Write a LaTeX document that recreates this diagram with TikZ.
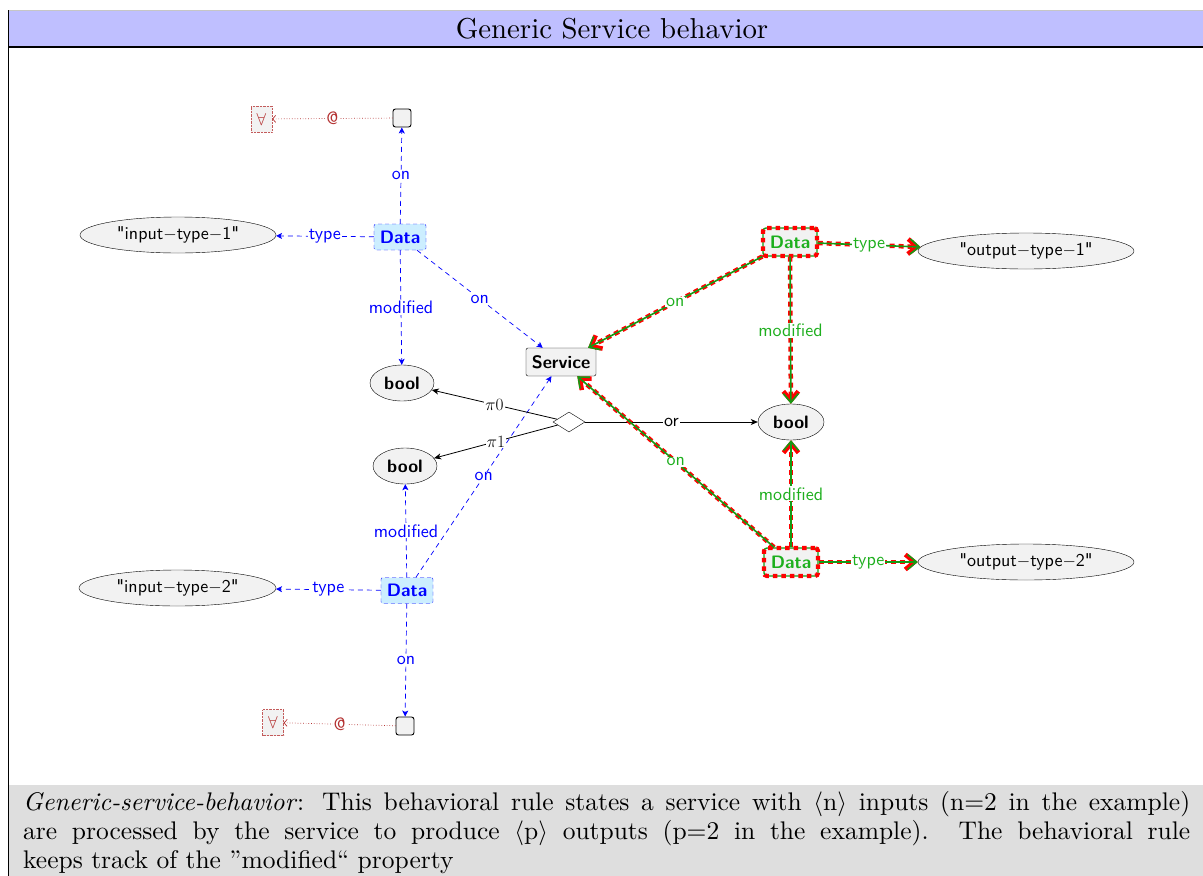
\documentclass[tikz,border=0pt]{standalone}
\usepackage{fontspec}
\usepackage{graphicx}
\setmainfont{lmroman10}[Extension=.otf, UprightFont=*-regular, ItalicFont=*-italic, BoldFont=*-bold, BoldItalicFont=*-bolditalic]
\setsansfont{lmsans10}[Extension=.otf, UprightFont=*-regular, BoldFont=*-bold, ItalicFont=*-oblique, BoldItalicFont=*-boldoblique]
\newfontfamily\plainsans{lmsans10}[Extension=.otf, UprightFont=*-regular, BoldFont=*-bold]
\usetikzlibrary{arrows.meta,shapes.geometric}
\definecolor{titlebg}{RGB}{191,191,255}
\definecolor{capbg}{RGB}{222,222,222}
\definecolor{nodebg}{RGB}{242,242,242}
\definecolor{inbg}{RGB}{204,238,255}
\definecolor{grn}{RGB}{20,155,20}
\definecolor{grntext}{RGB}{30,175,30}
\definecolor{rulered}{RGB}{180,50,50}
\definecolor{myred}{RGB}{255,0,0}
\begin{document}
\begin{tikzpicture}[x=1pt,y=-1pt,
  sq/.style={draw, line width=0.9pt, fill=nodebg, rounded corners=2.5pt, minimum size=18pt, inner sep=0pt},
  fa/.style={draw=rulered!80, densely dotted, fill=nodebg, text=rulered, minimum width=21pt, minimum height=26pt, inner sep=0pt, font=\fontsize{18}{21}\selectfont},
  indata/.style={draw=blue, dash pattern=on 4pt off 3pt, fill=inbg, text=blue, rounded corners=2pt, minimum width=52pt, minimum height=26pt, inner sep=2pt, font=\sffamily\bfseries\fontsize{18}{21}\selectfont},
  outdata/.style={fill=nodebg, draw=grn, line width=1.4pt, postaction={draw=myred, line width=4.2pt, dash pattern=on 4.5pt off 4pt}, text=grntext, rounded corners=3pt, minimum width=54pt, minimum height=28pt, inner sep=2pt, font=\sffamily\bfseries\fontsize{18}{21}\selectfont},
  ell/.style={ellipse, draw, fill=nodebg, inner sep=0pt, minimum height=36pt, font=\plainsans\fontsize{18}{21}\selectfont},
  boolst/.style={ellipse, draw, fill=nodebg, inner sep=0pt, minimum width=64pt, minimum height=36pt, font=\sffamily\bfseries\fontsize{18}{21}\selectfont},
  svc/.style={draw, fill=nodebg, rounded corners=2pt, minimum width=70pt, minimum height=28pt, inner sep=2pt, font=\sffamily\bfseries\fontsize{18}{21}\selectfont},
  dia/.style={diamond, draw, fill=white, minimum width=32pt, minimum height=20pt, inner sep=0pt},
  bl/.style={draw=blue, line width=0.7pt, dash pattern=on 5pt off 4pt, -{Stealth[length=6pt,width=6pt,inset=1.5pt]}},
  blab/.style={text=blue, fill=white, inner sep=1pt, font=\sffamily\fontsize{18}{21}\selectfont},
  bk/.style={draw, line width=0.8pt, -{Stealth[length=7pt,width=6pt,inset=2pt]}},
  klab/.style={text=black, fill=white, inner sep=1pt, font=\fontsize{18}{21}\selectfont},
  rd/.style={draw=rulered, line width=0.7pt, dotted, -{Straight Barb[length=3pt,width=7pt]}},
  rlab/.style={text=rulered, fill=white, inner sep=1pt, font=\sffamily\fontsize{18}{21}\selectfont},
  gr/.style={draw=grn, line width=1.6pt, preaction={draw=myred, line width=4.5pt, dash pattern=on 5pt off 4pt}, -{Straight Barb[length=9pt,width=15pt]}},
  glab/.style={text=grntext, fill=white, inner sep=1pt, font=\sffamily\fontsize{18}{21}\selectfont}
]
\useasboundingbox (0,0) rectangle (1203,876);
% frame
\fill[titlebg] (8,10) rectangle (1203,47);
\fill[capbg] (8,785) rectangle (1203,876);
\draw[gray!45, line width=0.8pt] (8,10) -- (1203,10);
\draw[line width=1.3pt] (8,47) -- (1203,47);
\draw[line width=0.8pt] (8,10) -- (8,876);
\node[font=\fontsize{28.8}{33}\selectfont, inner sep=0pt] (title) at (612,29) {Generic Service behavior};
\node[anchor=north west, inner sep=0pt, text width=1167pt, align=justify, font=\fontsize{25.5}{29}\selectfont] (cap) at (23,791)
 {\textit{Generic-service-behavior}: This behavioral rule states a service with $\langle$n$\rangle$ inputs (n=2 in the example)\linebreak are processed by the service to produce $\langle$p$\rangle$ outputs (p=2 in the example). The behavioral rule\linebreak keeps track of the ”modified“ property};

% nodes
\node[sq] (s1) at (402,118) {};
\node[fa] (fa1) at (261.5,119) {$\forall$};
\node[indata] (d1) at (400,237) {Data};
\node[ell, minimum width=196pt] (it1) at (178,235) {"input$-$type$-$1"};
\node[boolst] (b1) at (402,383) {bool};
\node[svc] (svc) at (561,362) {Service};
\node[dia] (dia) at (569,422) {};
\node[boolst] (b2) at (405,466) {bool};
\node[boolst, minimum width=66pt] (b3) at (791,422) {bool};
\node[indata] (d2) at (407,590.5) {Data};
\node[ell, minimum width=197pt] (it2) at (177.5,588) {"input$-$type$-$2"};
\node[sq] (s2) at (405,726) {};
\node[fa] (fa2) at (273,722.5) {$\forall$};
\node[outdata] (d3) at (790,242) {Data};
\node[ell, minimum width=216pt] (ot1) at (1026,251) {"output$-$type$-$1"};
\node[outdata] (d4) at (791,562) {Data};
\node[ell, minimum width=216pt] (ot2) at (1026,562) {"output$-$type$-$2"};

% blue edges
\draw[bl] (d1) -- node[blab]{on} (s1);
\draw[bl] (d1) -- node[blab]{type} (it1);
\draw[bl] (d1) -- node[blab]{modified} (b1);
\draw[bl] (d1) -- node[blab]{on} (svc);
\draw[bl] (d2) -- node[blab]{on} (s2);
\draw[bl] (d2) -- node[blab]{type} (it2);
\draw[bl] (d2) -- node[blab]{modified} (b2);
\draw[bl] (d2) -- node[blab]{on} (svc);
% red dotted
\draw[rd] (s1) -- node[rlab]{@} (fa1);
\draw[rd] (s2) -- node[rlab]{@} (fa2);
% black
\draw[bk] (dia) -- node[klab]{$\pi0$} (b1);
\draw[bk] (dia) -- node[klab]{$\pi1$} (b2);
\draw[bk] (dia) -- node[klab, font=\sffamily\fontsize{18}{21}\selectfont]{or} (b3);
% green
\draw[gr] (d3) -- node[glab]{on} (svc);
\draw[gr] (d3) -- node[glab]{type} (ot1);
\draw[gr] (d3) -- node[glab]{modified} (b3);
\draw[gr] (d4) -- node[glab]{on} (svc);
\draw[gr] (d4) -- node[glab]{type} (ot2);
\draw[gr] (d4) -- node[glab]{modified} (b3);
\end{tikzpicture}
\end{document}
